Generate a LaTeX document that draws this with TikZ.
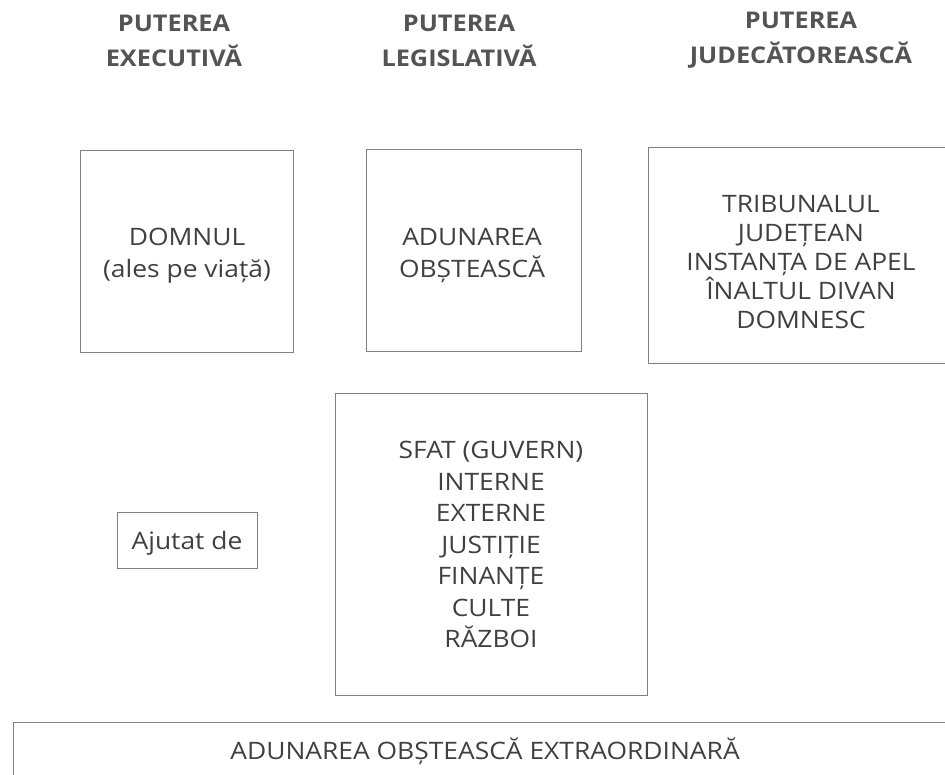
\documentclass[tikz,border=0pt]{standalone}
\usepackage{fontspec}
\setmainfont{Open Sans}[FakeStretch=1.1]
\definecolor{inkgray}{gray}{0.25}
\definecolor{headgray}{gray}{0.33}
\definecolor{framegray}{gray}{0.5}
\newcommand{\bodyfont}{\fontsize{24}{32}\selectfont}

\begin{document}
\begin{tikzpicture}[x=1pt, y=-1pt,
    every node/.style = {align=center, inner sep=0pt, text=inkgray},
    head/.style = {font=\fontsize{23}{35}\selectfont\bfseries, text=headgray},
    body/.style = {font=\bodyfont},
    panel/.style = {draw=framegray, line width=1pt, shape=rectangle}]
  \useasboundingbox (0,0) rectangle (945,774);
  % column headings
  \node[head] (headexec) at (174,40.5) {PUTEREA\\EXECUTIVĂ};
  \node[head] (headleg)  at (459,40.5) {PUTEREA\\LEGISLATIVĂ};
  \node[head] (headjud)  at (801,40.5) {PUTEREA\\JUDECĂTOREASCĂ};
  % boxes
  \node[panel, minimum width=213pt, minimum height=202pt] (domnul)   at (186.5,251) {};
  \node[panel, minimum width=215pt, minimum height=202pt] (adunarea) at (473.5,250) {};
  \node[panel, minimum width=312pt, minimum height=216pt] (tribunal) at (804,255) {};
  \node[panel, minimum width=312pt, minimum height=302pt] (sfat)     at (491,544) {};
  \node[panel, minimum width=140pt, minimum height=56pt]  (ajutat)   at (187,540) {};
  \node[panel, minimum width=947pt, minimum height=68pt]  (extra)    at (486.5,756) {};
  % texts
  \node[body] (domnultxt)   at (187,256) {DOMNUL\\(ales pe viață)};
  \node[body] (adunareatxt) at (472,256) {ADUNAREA\\OBȘTEASCĂ};
  \node[body, font=\fontsize{24}{29}\selectfont] (tribunaltxt) at (801,262)
    {TRIBUNALUL\\JUDEȚEAN\\INSTANȚA DE APEL\\ÎNALTUL DIVAN\\DOMNESC};
  \node[body, font=\fontsize{24}{31.5}\selectfont] (sfattxt) at (491,544.5)
    {SFAT (GUVERN)\\INTERNE\\EXTERNE\\JUSTIȚIE\\FINANȚE\\CULTE\\RĂZBOI};
  \node[body] (ajutattxt) at (187,543.5) {Ajutat de};
  \node[body] (extratxt)  at (485,751.5) {ADUNAREA OBȘTEASCĂ EXTRAORDINARĂ};
\end{tikzpicture}
\end{document}
